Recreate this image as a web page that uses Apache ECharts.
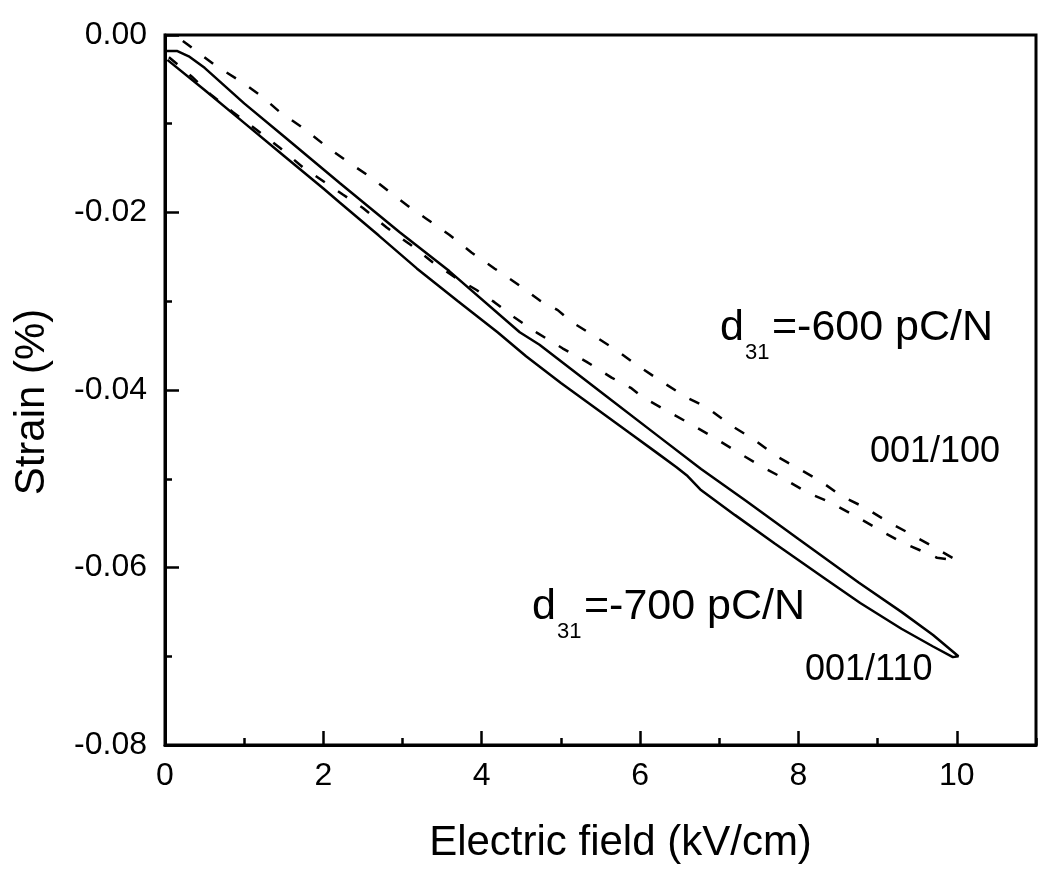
<!DOCTYPE html>
<html>
<head>
<meta charset="utf-8">
<script src="https://cdn.jsdelivr.net/npm/echarts@6/dist/echarts.min.js"></script>
<style>
html,body{margin:0;padding:0;background:#fff;}
#chart{width:1050px;height:873px;}
</style>
</head>
<body>
<div id="chart"></div>
<script>
// 001/110 loop (solid): outgoing (lower) branch
const field110Up = [0.03,0.5,1.0,1.5,2.0,2.21,2.7,3.18,3.7,4.2,4.56,5.0,5.4,5.86,6.2,6.46,6.6,6.76,7.2,7.7,8.36,8.78,9.3,9.7,9.95,10.02];
const strain110Up = [-0.0028,-0.0062,-0.0099,-0.0136,-0.0173,-0.0189,-0.0226,-0.0263,-0.0300,-0.0335,-0.0362,-0.0392,-0.0418,-0.0448,-0.0470,-0.0487,-0.0497,-0.0512,-0.0541,-0.0573,-0.0614,-0.0640,-0.0669,-0.0689,-0.0701,-0.0700];
// 001/110 loop (solid): returning (upper) branch
const field110Down = [10.02,9.7,9.3,8.76,8.0,7.34,6.77,6.2,5.5,4.73,4.48,3.59,2.96,2.21,1.5,1.0,0.5,0.3,0.15,0.02];
const strain110Down = [-0.0698,-0.0676,-0.0650,-0.0617,-0.0568,-0.0525,-0.0489,-0.0450,-0.0402,-0.0349,-0.0335,-0.0266,-0.0222,-0.0167,-0.0114,-0.0077,-0.0037,-0.0024,-0.0018,-0.0018];
// 001/100 loop (dashed): outgoing (lower) branch
const field100Up = [0.05,0.34,0.59,0.86,1.16,1.45,1.74,2.02,2.25,2.50,2.80,3.11,3.38,3.68,3.93,4.16,4.41,4.69,5.02,5.32,5.64,5.89,6.03,6.33,6.65,6.94,7.23,7.53,7.78,8.10,8.41,8.70,8.99,9.29,9.52,9.75,10.0];
const strain100Up = [-0.0025,-0.0047,-0.0068,-0.0087,-0.0107,-0.0127,-0.0149,-0.0166,-0.0180,-0.0195,-0.0217,-0.0237,-0.0256,-0.0274,-0.0287,-0.0301,-0.0318,-0.0335,-0.0353,-0.0368,-0.0386,-0.0398,-0.0408,-0.0423,-0.0439,-0.0454,-0.0470,-0.0486,-0.0498,-0.0515,-0.0527,-0.0541,-0.0556,-0.0571,-0.0580,-0.0589,-0.0592];
// 001/100 loop (dashed): returning (upper) branch
const field100Down = [10.0,9.71,9.39,9.12,8.83,8.55,8.30,8.03,7.73,7.44,7.15,6.85,6.58,6.28,5.96,5.70,5.40,5.13,4.96,4.73,4.44,4.16,3.87,3.59,3.30,3.09,2.88,2.61,2.31,2.03,1.73,1.44,1.22,0.97,0.63,0.29,0.2];
const strain100Down = [-0.0592,-0.0577,-0.0561,-0.0548,-0.0532,-0.0520,-0.0504,-0.0490,-0.0475,-0.0456,-0.0440,-0.0420,-0.0408,-0.0391,-0.0372,-0.0355,-0.0338,-0.0323,-0.0310,-0.0299,-0.0280,-0.0263,-0.0245,-0.0225,-0.0207,-0.0194,-0.0180,-0.0161,-0.0143,-0.0125,-0.0104,-0.0086,-0.0069,-0.0053,-0.0034,-0.0011,-0.0005];

const xTicks = [0,2,4,6,8,10];
const xName = 'Electric field (kV/cm)';
const yName = 'Strain (%)';

function pairs(xs, ys){ return xs.map((x,i)=>[x, ys[i]]); }
const loop110 = pairs(field110Up, strain110Up).concat(pairs(field110Down, strain110Down));
const loop100 = pairs(field100Up, strain100Up).concat(pairs(field100Down, strain100Down));

const FONT = '"Liberation Sans", Arial, sans-serif';
const chart = echarts.init(document.getElementById('chart'), null, {renderer:'canvas'});

const option = {
  animation: false,
  backgroundColor: '#fff',
  grid: {left:165, right:14, top:35, bottom:128, show:true, borderColor:'#000', borderWidth:3, backgroundColor:'transparent'},
  xAxis: [{
    type:'value', min:0, max:11, interval:2, position:'bottom',
    axisLine:{onZero:false, lineStyle:{color:'#000', width:3}},
    axisTick:{inside:true, length:14, lineStyle:{color:'#000', width:2.5}},
    axisLabel:{fontSize:32, color:'#000', fontFamily:FONT, margin:15, showMaxLabel:false,
      formatter: v => xTicks.indexOf(v) >= 0 ? String(v) : ''},
    splitLine:{show:false},
    name:xName, nameLocation:'middle', nameGap:77,
    nameTextStyle:{fontSize:42, color:'#000', fontFamily:FONT, padding:[0,0,0,40]}
  },{
    type:'value', min:0, max:11, interval:1, position:'bottom',
    axisLine:{show:false, onZero:false},
    axisTick:{inside:true, length:7, lineStyle:{color:'#000', width:2.5}},
    axisLabel:{show:false}, splitLine:{show:false}
  }],
  yAxis: {
    type:'value', min:-0.08, max:0, interval:0.02,
    axisLine:{onZero:false, lineStyle:{color:'#000', width:3}},
    axisTick:{inside:true, length:14, lineStyle:{color:'#000', width:2.5}},
    minorTick:{show:true, splitNumber:2, length:7, lineStyle:{color:'#000', width:2.5}},
    axisLabel:{fontSize:32, color:'#000', fontFamily:FONT, margin:18,
      formatter: v => (Math.abs(v) < 1e-9 ? 0 : v).toFixed(2)},
    splitLine:{show:false}, minorSplitLine:{show:false},
    name:yName, nameLocation:'middle', nameGap:112,
    nameTextStyle:{fontSize:42, color:'#000', fontFamily:FONT, padding:[0,24,0,0]}
  },
  series: [
    {name:'001/110', type:'line', data:loop110, showSymbol:false, symbol:'none',
     lineStyle:{color:'#000', width:2.5, type:'solid'}, xAxisIndex:0},
    {name:'001/100', type:'line', data:loop100, showSymbol:false, symbol:'none',
     lineStyle:{color:'#000', width:2.5, type:[11,16]}, xAxisIndex:0}
  ],
  graphic: [
    {type:'text', x:720, y:328, style:{text:'d', font:'43px '+FONT, fill:'#000', verticalAlign:'middle', align:'left'}},
    {type:'text', x:745, y:353, style:{text:'31', font:'22px '+FONT, fill:'#000', verticalAlign:'middle', align:'left'}},
    {type:'text', x:772, y:328, style:{text:'=-600 pC/N', font:'43px '+FONT, fill:'#000', verticalAlign:'middle', align:'left'}},
    {type:'text', x:870, y:452, style:{text:'001/100', font:'36px '+FONT, fill:'#000', verticalAlign:'middle', align:'left'}},
    {type:'text', x:532, y:607, style:{text:'d', font:'43px '+FONT, fill:'#000', verticalAlign:'middle', align:'left'}},
    {type:'text', x:557, y:632, style:{text:'31', font:'22px '+FONT, fill:'#000', verticalAlign:'middle', align:'left'}},
    {type:'text', x:584, y:607, style:{text:'=-700 pC/N', font:'43px '+FONT, fill:'#000', verticalAlign:'middle', align:'left'}},
    {type:'text', x:805, y:670, style:{text:'001/110', font:'36px '+FONT, fill:'#000', verticalAlign:'middle', align:'left'}}
  ]
};
chart.setOption(option);
</script>
</body>
</html>
